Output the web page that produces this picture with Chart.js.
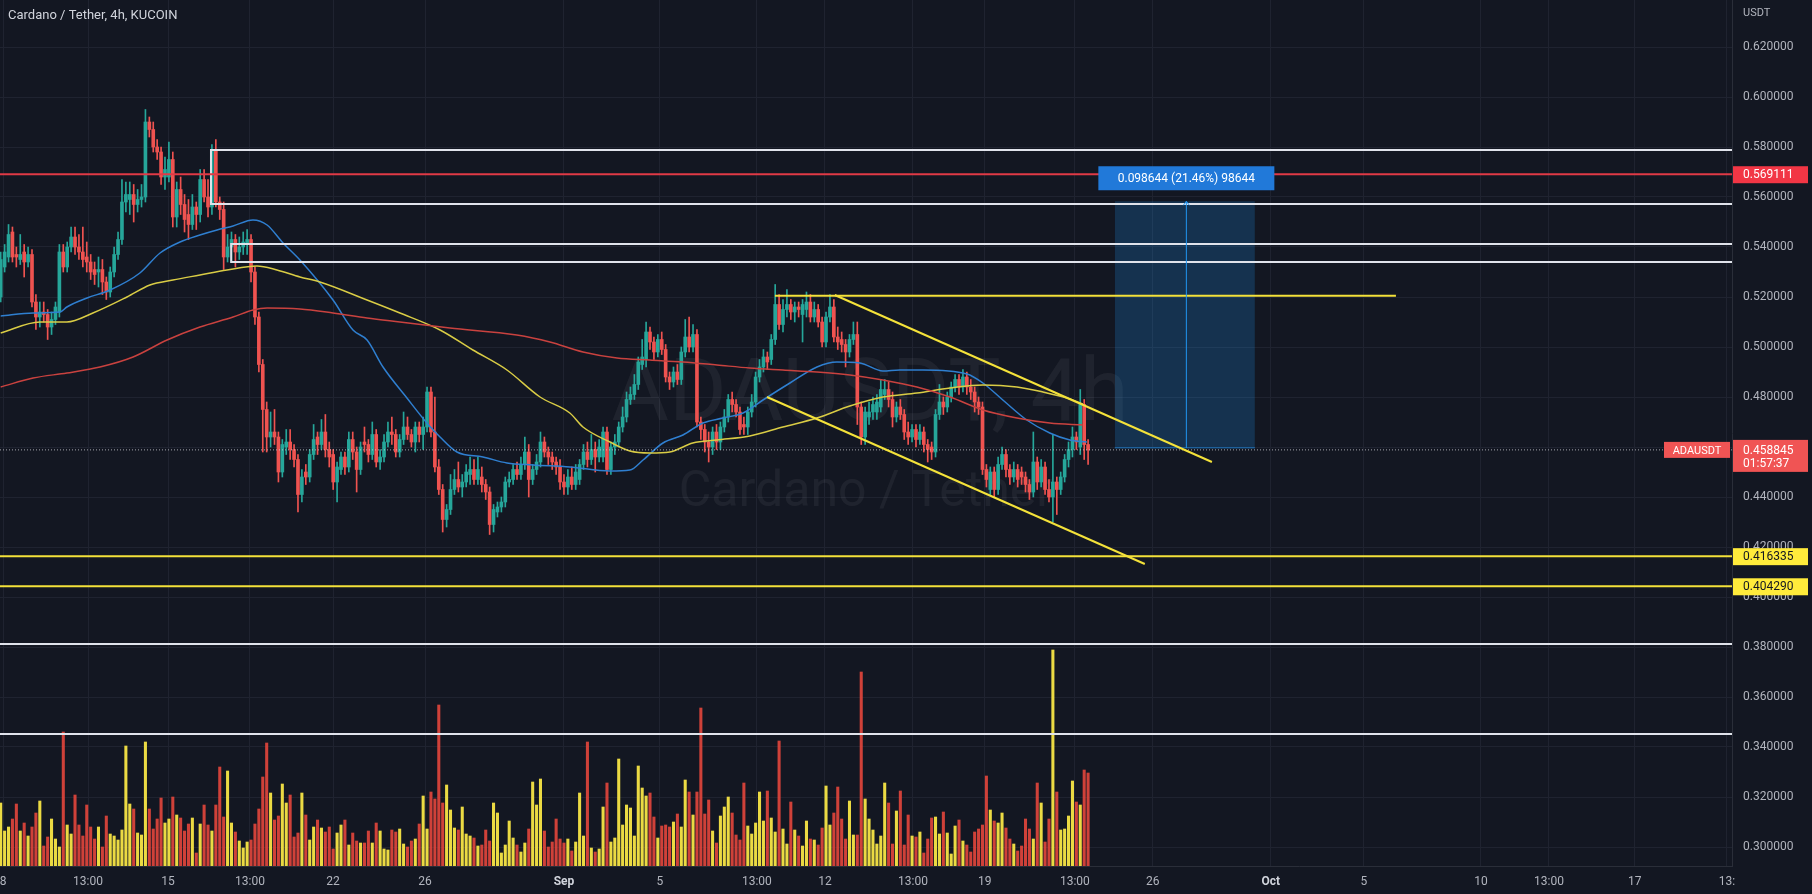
<!DOCTYPE html>
<html><head><meta charset="utf-8">
<script src="https://cdn.jsdelivr.net/npm/chart.js@4/dist/chart.umd.min.js"></script>
<style>html,body{margin:0;padding:0;background:#131722;overflow:hidden}canvas{display:block}</style>
</head><body><canvas id="c" width="1812" height="894"></canvas>
<script>
// ---------- DATA (ADA/USDT, 4h candles, KuCoin) ----------
const OPEN = [.520,.532,.536,.546,.537,.535,.538,.534,.537,.518,.512,.514,.513,.508,.511,.514,.538,.532,.540,.544,
.540,.538,.536,.534,.531,.530,.531,.526,.522,.530,.537,.543,.558,.559,.561,.557,.559,.560,.590,.587,
.580,.578,.568,.568,.575,.552,.563,.557,.553,.549,.556,.553,.567,.560,.556,.579,.558,.555,.536,.540,
.543,.538,.540,.541,.543,.530,.512,.493,.475,.464,.466,.464,.450,.460,.462,.459,.455,.441,.450,.448,
.457,.464,.461,.466,.459,.457,.446,.451,.456,.452,.463,.458,.451,.462,.461,.457,.465,.454,.456,.462,
.466,.465,.458,.463,.468,.465,.462,.468,.465,.468,.482,.466,.452,.443,.431,.435,.443,.447,.444,.446,
.449,.451,.447,.448,.445,.442,.429,.434,.436,.438,.446,.447,.451,.449,.453,.458,.447,.451,.454,.462,
.458,.456,.454,.452,.446,.444,.448,.445,.447,.453,.458,.455,.459,.456,.456,.466,.451,.460,.462,.468,
.472,.479,.481,.485,.493,.495,.506,.502,.498,.503,.499,.488,.486,.490,.487,.498,.504,.500,.505,.470,
.467,.462,.460,.466,.462,.468,.472,.479,.477,.474,.469,.468,.474,.478,.488,.492,.496,.495,.503,.517,
.509,.515,.517,.514,.516,.513,.515,.518,.512,.515,.510,.502,.512,.516,.504,.503,.501,.498,.503,.505,
.476,.464,.472,.474,.474,.476,.481,.483,.479,.472,.476,.473,.466,.464,.467,.463,.466,.461,.460,.458,
.473,.478,.476,.480,.484,.487,.484,.488,.484,.482,.478,.476,.451,.443,.450,.443,.453,.457,.451,.448,
.451,.450,.448,.445,.442,.454,.446,.452,.443,.440,.446,.443,.448,.455,.459,.464,.460,.477,.461];
const HIGH = [.538,.541,.549,.548,.540,.545,.541,.540,.539,.521,.518,.518,.515,.514,.518,.541,.541,.542,.548,.548,
.545,.548,.542,.537,.534,.536,.535,.528,.532,.540,.546,.567,.566,.566,.565,.563,.565,.595,.592,.590,
.583,.580,.576,.582,.578,.566,.568,.561,.559,.561,.558,.571,.571,.567,.581,.583,.560,.558,.545,.546,
.545,.544,.546,.547,.545,.532,.514,.495,.478,.474,.475,.466,.463,.467,.467,.461,.457,.451,.453,.459,
.469,.466,.471,.473,.462,.459,.454,.458,.458,.466,.466,.460,.462,.468,.463,.470,.467,.459,.465,.470,
.472,.467,.465,.474,.472,.467,.470,.470,.472,.484,.484,.480,.455,.445,.437,.449,.451,.454,.449,.453,
.456,.455,.456,.452,.447,.444,.437,.438,.440,.448,.450,.453,.454,.456,.464,.461,.453,.457,.466,.464,
.460,.458,.456,.455,.449,.451,.452,.453,.455,.461,.462,.465,.462,.463,.468,.468,.462,.465,.470,.476,
.482,.484,.489,.496,.503,.510,.508,.504,.505,.506,.501,.490,.492,.493,.500,.511,.512,.509,.507,.472,
.469,.466,.468,.469,.470,.475,.481,.482,.479,.476,.472,.476,.481,.490,.495,.499,.498,.505,.525,.521,
.519,.523,.519,.518,.518,.519,.522,.521,.518,.517,.512,.514,.521,.519,.508,.506,.503,.505,.510,.510,
.478,.476,.478,.480,.481,.487,.487,.486,.482,.478,.479,.475,.470,.469,.469,.469,.468,.463,.462,.475,
.485,.480,.482,.486,.489,.489,.491,.490,.487,.484,.480,.478,.453,.452,.452,.456,.460,.459,.453,.454,
.453,.452,.450,.447,.466,.456,.455,.454,.447,.465,.448,.450,.457,.462,.468,.466,.483,.479,.463];
const LOW = [.518,.530,.534,.534,.532,.533,.528,.532,.516,.507,.508,.510,.503,.505,.509,.512,.530,.530,.538,.537,
.535,.532,.530,.527,.525,.524,.521,.519,.520,.528,.535,.541,.554,.553,.550,.554,.556,.558,.584,.578,
.575,.565,.563,.566,.548,.548,.553,.546,.543,.547,.547,.550,.558,.552,.553,.556,.551,.531,.534,.534,
.532,.535,.537,.537,.526,.509,.490,.458,.458,.460,.461,.446,.448,.457,.455,.452,.434,.438,.445,.446,
.455,.457,.459,.456,.452,.443,.438,.449,.449,.450,.455,.442,.449,.458,.454,.455,.452,.451,.454,.460,
.461,.456,.456,.461,.463,.460,.458,.462,.459,.466,.464,.450,.441,.426,.428,.433,.441,.442,.440,.444,
.445,.445,.445,.442,.439,.425,.426,.432,.434,.436,.444,.445,.447,.447,.451,.440,.445,.449,.452,.456,
.453,.451,.449,.443,.441,.441,.443,.443,.445,.451,.452,.453,.450,.454,.454,.449,.449,.457,.460,.466,
.470,.477,.479,.483,.491,.492,.499,.495,.496,.497,.486,.483,.484,.485,.485,.496,.498,.498,.468,.463,
.458,.454,.457,.459,.459,.466,.470,.474,.472,.465,.465,.465,.472,.476,.486,.490,.491,.493,.501,.507,
.506,.512,.511,.510,.512,.502,.512,.510,.510,.508,.500,.500,.510,.502,.499,.498,.492,.496,.501,.469,
.461,.461,.469,.471,.471,.474,.479,.476,.468,.470,.471,.463,.461,.462,.460,.461,.458,.454,.455,.456,
.471,.473,.474,.478,.482,.481,.482,.481,.479,.474,.473,.449,.444,.441,.440,.441,.451,.448,.445,.446,
.444,.445,.442,.439,.440,.443,.444,.441,.438,.430,.433,.441,.446,.452,.456,.459,.457,.455,.453];
const CLOSE = [.535,.538,.545,.536,.536,.537,.534,.537,.518,.512,.514,.513,.508,.511,.516,.538,.532,.540,.544,.540,
.538,.535,.534,.530,.529,.531,.526,.522,.530,.537,.543,.558,.561,.561,.557,.559,.560,.590,.587,.580,
.578,.568,.571,.575,.552,.563,.557,.551,.549,.556,.553,.567,.560,.556,.579,.558,.555,.536,.540,.543,
.538,.540,.542,.543,.530,.512,.493,.475,.464,.466,.464,.450,.461,.462,.459,.455,.441,.448,.448,.457,
.463,.461,.466,.459,.456,.446,.452,.456,.452,.463,.458,.451,.460,.461,.457,.465,.454,.456,.462,.466,
.465,.458,.463,.468,.465,.462,.468,.465,.468,.482,.466,.452,.443,.431,.435,.443,.447,.444,.446,.450,
.451,.447,.451,.445,.442,.429,.435,.436,.438,.446,.447,.451,.449,.453,.458,.447,.451,.454,.462,.458,
.456,.454,.452,.446,.444,.448,.445,.450,.453,.458,.455,.459,.456,.460,.466,.451,.460,.462,.468,.472,
.479,.481,.485,.494,.496,.506,.502,.498,.503,.499,.488,.486,.490,.487,.498,.504,.500,.505,.470,.467,
.462,.460,.466,.462,.468,.472,.479,.477,.474,.467,.468,.474,.478,.488,.492,.496,.494,.503,.517,.509,
.515,.517,.514,.516,.515,.517,.518,.512,.515,.510,.502,.512,.516,.504,.502,.501,.498,.503,.505,.476,
.464,.474,.474,.477,.478,.483,.483,.479,.472,.476,.473,.466,.464,.467,.463,.466,.461,.459,.458,.473,
.478,.476,.480,.484,.487,.484,.488,.484,.482,.478,.476,.451,.447,.450,.443,.453,.457,.451,.448,.451,
.447,.448,.445,.442,.454,.446,.452,.443,.440,.446,.443,.448,.455,.459,.464,.462,.477,.461,.458845];
const VOLUME_K = [63,35,39,47,62,35,43,30,39,53,65,20,29,47,27,19,134,41,32,71,
41,30,61,39,27,39,19,50,32,30,26,36,120,62,57,33,31,124,57,37,
47,68,43,47,69,51,48,35,42,48,13,42,61,41,35,61,99,49,95,43,
34,25,18,24,26,42,57,89,123,73,46,50,82,63,71,29,33,73,51,26,
39,46,38,34,39,17,33,41,46,21,33,25,23,23,35,23,43,35,17,16,
36,34,37,22,19,25,27,42,70,37,74,67,161,63,81,56,38,36,59,32,
30,28,20,21,36,25,63,53,13,21,45,28,21,14,23,37,84,61,87,35,
19,24,47,27,23,27,15,24,73,30,124,18,14,17,59,83,24,28,107,41,
61,58,30,100,78,70,73,49,28,40,41,39,44,52,39,86,74,51,74,158,
52,66,35,23,50,59,69,53,31,26,83,40,32,43,74,45,75,48,34,125,
37,22,64,36,30,20,45,27,26,21,38,80,41,53,79,47,27,65,31,31,
194,67,47,36,22,30,83,63,22,55,75,21,51,30,29,34,13,27,48,49,
32,54,33,12,40,46,25,21,14,34,37,41,90,56,45,43,53,38,27,22,
15,20,47,37,27,83,63,24,47,216,74,36,37,50,85,64,61,96,93];
const CANDLE_DAYS = 4 / 24;           // one candle = 4h, x axis in days

// moving averages: [day, price]
const MA_BLUE = [[0,.5124],[1.38,.5136],[2.53,.5140],[2.82,.5160],[3.68,.5196],[4.66,.5228],[5.93,.5296],[6.79,.5376],[7.64,.5420],[8.49,.5448],[9.22,.5468],[9.90,.5484],[10.75,.5508],[11.35,.5488],[12.03,.5416],[12.75,.5348],[14.16,.5188],[15.01,.5068],[15.61,.5028],[16.29,.4920],[17.31,.4796],[18.16,.4696],[18.72,.4640],[19.44,.4580],[20.55,.4560],[21.57,.4536],[22.68,.4528],[24.25,.4520],[25.96,.4504],[26.81,.4508],[27.37,.4548],[28.22,.4616],[29.07,.4648],[29.92,.4696],[30.77,.4716],[31.63,.4736],[32.48,.4788],[33.63,.4856],[34.78,.4920],[35.63,.4940],[36.61,.4936],[37.59,.4904],[38.31,.4908],[39.29,.4908],[41.17,.4892],[41.85,.4856],[42.70,.4788],[43.72,.4708],[44.70,.4656],[45.56,.4628],[46.28,.4620]];
const MA_YELLOW = [[0,.5056],[1.67,.5100],[2.82,.5100],[3.93,.5136],[5.38,.5200],[6.36,.5248],[7.34,.5268],[8.49,.5288],[9.64,.5308],[10.92,.5324],[11.77,.5308],[12.75,.5280],[13.60,.5260],[15.61,.5188],[17.01,.5136],[18.72,.5068],[20.12,.4988],[21.57,.4908],[22.98,.4800],[24.25,.4736],[24.81,.4680],[25.96,.4620],[26.81,.4584],[27.66,.4576],[28.51,.4580],[29.49,.4616],[30.52,.4628],[31.92,.4644],[33.33,.4680],[34.78,.4716],[36.18,.4764],[37.59,.4800],[39.04,.4816],[40.45,.4836],[41.85,.4848],[43.30,.4840],[44.41,.4820],[45.43,.4796],[46.11,.4772]];
const MA_RED = [[0,.4840],[1.38,.4876],[2.82,.4896],[4.23,.4920],[5.64,.4960],[7.09,.5028],[8.49,.5080],[9.90,.5120],[10.75,.5148],[11.35,.5156],[12.75,.5152],[14.16,.5136],[15.61,.5116],[17.01,.5100],[19.14,.5076],[21.99,.5048],[23.40,.5020],[24.81,.4980],[26.26,.4956],[27.66,.4948],[29.07,.4940],[30.52,.4928],[31.92,.4916],[33.33,.4908],[34.78,.4900],[36.18,.4888],[37.59,.4868],[39.04,.4840],[40.45,.4800],[41.85,.4748],[43.30,.4716],[44.70,.4696],[46.11,.4688]];

// drawings
const RED_LEVEL = 0.569111;
const YELLOW_LEVELS = [0.416335, 0.404290];
const WHITE_LEVELS = [0.3812, 0.3452];
const WHITE_ZONES = [[8.96, 0.5788, 0.5572], [9.82, 0.5412, 0.5340]]; // [startDay, top, bottom]
const RESISTANCE = [[32.99, 0.5205], [59.45, 0.5205]];
const CHANNEL_UPPER = [[35.54, 0.5208], [51.61, 0.4540]];
const CHANNEL_LOWER = [[32.65, 0.4800], [48.75, 0.4132]];
const POSITION = {from: 47.47, to: 53.44, entry: 0.45966, target: 0.5583, mark: 50.52};
const LAST_PRICE = 0.458845;

const PRICE_TICKS = [0.30,0.32,0.34,0.36,0.38,0.40,0.42,0.44,0.46,0.48,0.50,0.52,0.54,0.56,0.58,0.60,0.62];
const TIME_TICKS = [0.10,3.72,7.13,10.62,14.16,18.08,24.0,28.09,32.22,35.12,38.87,41.93,45.77,49.09,54.12,58.08,63.07,65.97,69.63,73.55];
const TIME_LABELS = ['8','13:00','15','13:00','22','26','Sep','5','13:00','12','13:00','19','13:00','26','Oct','5','10','13:00','17','13:'];
const X_MIN = -0.03, X_MAX = 73.77, Y_MIN = 0.2924, Y_MAX = 0.6388, VOL_MAX = 866;

// ---------- CHART ----------
Chart.defaults.font.family = 'Roboto, "Noto Sans", sans-serif';
const UP = '#26a69a', DOWN = '#ef5350';
const xs = CLOSE.map((_, i) => i * CANDLE_DAYS);
const isUp = CLOSE.map((c, i) => c >= OPEN[i]);
const cCol = isUp.map(u => u ? UP : DOWN);
const vCol = isUp.map(u => u ? 'rgba(247,229,70,0.95)' : 'rgba(228,70,60,0.9)');
const pts = a => a.map(([x, y]) => ({x, y}));
const line = (data, color, width, order, extra) => Object.assign({type: 'line', data, borderColor: color, borderWidth: width, pointRadius: 0, fill: false, tension: 0, order, yAxisID: 'y'}, extra || {});

const datasets = [];
datasets.push({type: 'bar', yAxisID: 'yv', data: xs.map((x, i) => ({x, y: VOLUME_K[i]})), backgroundColor: vCol, barThickness: 2.4, grouped: false, order: 100});
// long position box
datasets.push(line(pts([[POSITION.from, POSITION.target], [POSITION.to, POSITION.target]]), 'rgba(0,0,0,0)', 0, 90, {fill: '+1', backgroundColor: 'rgba(33,150,243,0.22)'}));
datasets.push(line(pts([[POSITION.from, POSITION.entry], [POSITION.to, POSITION.entry]]), 'rgba(33,150,243,0.7)', 1, 90));
datasets.push(line(pts([[POSITION.mark, POSITION.entry], [POSITION.mark, POSITION.target]]), '#2196f3', 1, 5));
// candles
datasets.push({type: 'bar', yAxisID: 'y', data: xs.map((x, i) => ({x, y: [LOW[i], HIGH[i]]})), backgroundColor: cCol, barThickness: 1, grouped: false, order: 30});
datasets.push({type: 'bar', yAxisID: 'y', data: xs.map((x, i) => ({x, y: [OPEN[i], CLOSE[i]]})), backgroundColor: cCol, barThickness: 3, minBarLength: 1, grouped: false, order: 20});
// moving averages
const ma = (a, c) => line(pts(a), c, 1.5, 15, {cubicInterpolationMode: 'monotone'});
datasets.push(ma(MA_RED, '#c9423f'));
datasets.push(ma(MA_YELLOW, '#d9cc45'));
datasets.push(ma(MA_BLUE, '#2f7fd0'));
// current price dotted line
datasets.push(line(pts([[X_MIN, LAST_PRICE], [X_MAX, LAST_PRICE]]), 'rgba(215,215,220,0.75)', 1, 8, {borderDash: [1, 2]}));
// horizontal levels
datasets.push(line(pts([[X_MIN, RED_LEVEL], [X_MAX, RED_LEVEL]]), '#e03a46', 2, 6));
YELLOW_LEVELS.forEach(p => datasets.push(line(pts([[X_MIN, p], [X_MAX, p]]), '#f4e23a', 2, 6)));
WHITE_LEVELS.forEach(p => datasets.push(line(pts([[X_MIN, p], [X_MAX, p]]), '#e0e3eb', 2, 6)));
WHITE_ZONES.forEach(([d, t, b]) => datasets.push(line(pts([[X_MAX, t], [d, t], [d, b], [X_MAX, b]]), '#e0e3eb', 2, 6)));
datasets.push(line(pts(RESISTANCE), '#f4e23a', 2, 6));
datasets.push(line(pts(CHANNEL_UPPER), '#f4e23a', 2, 6));
datasets.push(line(pts(CHANNEL_LOWER), '#f4e23a', 2, 6));

const GRID = '#1f2330', AXIS_TXT = '#b2b5be';
const decor = {
  id: 'decor',
  beforeDatasetsDraw(chart) {
    const {ctx, chartArea: a} = chart;
    const cx = (a.left + a.right) / 2;
    ctx.save();
    ctx.fillStyle = 'rgba(255,255,255,0.055)';
    ctx.textAlign = 'center'; ctx.textBaseline = 'alphabetic';
    ctx.font = '88px Roboto, sans-serif';
    ctx.fillText('ADAUSDT, 4h', cx + 4, a.top + a.height * 0.485);
    ctx.font = '50px Roboto, sans-serif';
    ctx.fillText('Cardano / Tether', cx, a.top + a.height * 0.584);
    ctx.restore();
  },
  afterDraw(chart) {
    const {ctx, chartArea: a, scales: {x, y}} = chart;
    ctx.save();
    ctx.textBaseline = 'middle';
    ctx.font = '13px Roboto, sans-serif'; ctx.fillStyle = '#d1d4dc'; ctx.textAlign = 'left';
    ctx.fillText('Cardano / Tether, 4h, KUCOIN', 8, 16);
    ctx.font = '11px Roboto, sans-serif'; ctx.fillStyle = AXIS_TXT;
    ctx.fillText('USDT', a.right + 11, 13);
    const tag = (price, bg, fg) => {
      const py = y.getPixelForValue(price);
      ctx.fillStyle = bg; ctx.fillRect(a.right + 1, py - 8, 75, 17);
      ctx.fillStyle = fg; ctx.font = '12px Roboto, sans-serif'; ctx.textAlign = 'left';
      ctx.fillText(price.toFixed(6), a.right + 11, py + 1);
    };
    tag(RED_LEVEL, '#f23645', '#ffffff');
    YELLOW_LEVELS.forEach(p => tag(p, '#ffeb3b', '#131722'));
    // last price
    const ly = y.getPixelForValue(LAST_PRICE);
    ctx.fillStyle = '#f05454';
    ctx.fillRect(a.right + 1, ly - 10, 75, 32);
    ctx.fillRect(a.right - 68, ly - 8, 66, 16);
    ctx.fillStyle = '#ffffff'; ctx.font = '12px Roboto, sans-serif';
    ctx.fillText(LAST_PRICE.toFixed(6), a.right + 11, ly + 1);
    ctx.fillText('01:57:37', a.right + 11, ly + 14);
    ctx.font = '11px Roboto, sans-serif'; ctx.textAlign = 'center';
    ctx.fillText('ADAUSDT', a.right - 35, ly + 1);
    // position label
    const mx = x.getPixelForValue(POSITION.mark), ty = y.getPixelForValue(POSITION.target);
    ctx.fillStyle = '#2179d9';
    ctx.fillRect(mx - 88, ty - 35, 176, 24);
    ctx.fillStyle = '#ffffff'; ctx.font = '12px Roboto, sans-serif';
    ctx.fillText('0.098644 (21.46%) 98644', mx, ty - 22);
    // arrow head
    ctx.strokeStyle = '#2196f3'; ctx.lineWidth = 1;
    ctx.beginPath(); ctx.moveTo(mx - 3, ty + 4); ctx.lineTo(mx, ty); ctx.lineTo(mx + 3, ty + 4); ctx.stroke();
    ctx.restore();
  }
};

new Chart(document.getElementById('c'), {
  type: 'bar',
  data: {datasets},
  plugins: [decor],
  options: {
    responsive: false, animation: false, events: [],
    layout: {padding: 0, autoPadding: false},
    plugins: {legend: {display: false}, tooltip: {enabled: false}},
    scales: {
      x: {
        type: 'linear', min: X_MIN, max: X_MAX, offset: false,
        grid: {color: GRID, drawTicks: false, offset: false},
        border: {color: '#2a2e39'},
        afterBuildTicks: s => { s.ticks = TIME_TICKS.map(v => ({value: v})); },
        afterFit: s => { s.height = 28; s.paddingLeft = 0; s.paddingRight = 0; },
        ticks: {
          autoSkip: false, maxRotation: 0, minRotation: 0, padding: 9,
          callback: (v, i) => TIME_LABELS[i],
          color: c => (TIME_LABELS[c.index] === 'Sep' || TIME_LABELS[c.index] === 'Oct') ? '#d1d4dc' : AXIS_TXT,
          font: c => ({size: 12, weight: (TIME_LABELS[c.index] === 'Sep' || TIME_LABELS[c.index] === 'Oct') ? 'bold' : 'normal'})
        }
      },
      y: {
        type: 'linear', position: 'right', min: Y_MIN, max: Y_MAX,
        grid: {color: GRID, drawTicks: false},
        border: {color: '#2a2e39'},
        afterBuildTicks: s => { s.ticks = PRICE_TICKS.map(v => ({value: v})); },
        afterFit: s => { s.width = 80; s.paddingTop = 0; s.paddingBottom = 0; },
        ticks: {padding: 11, color: AXIS_TXT, font: {size: 12}, callback: v => v.toFixed(6)}
      },
      yv: {type: 'linear', display: false, min: 0, max: VOL_MAX}
    }
  }
});
</script></body></html>
